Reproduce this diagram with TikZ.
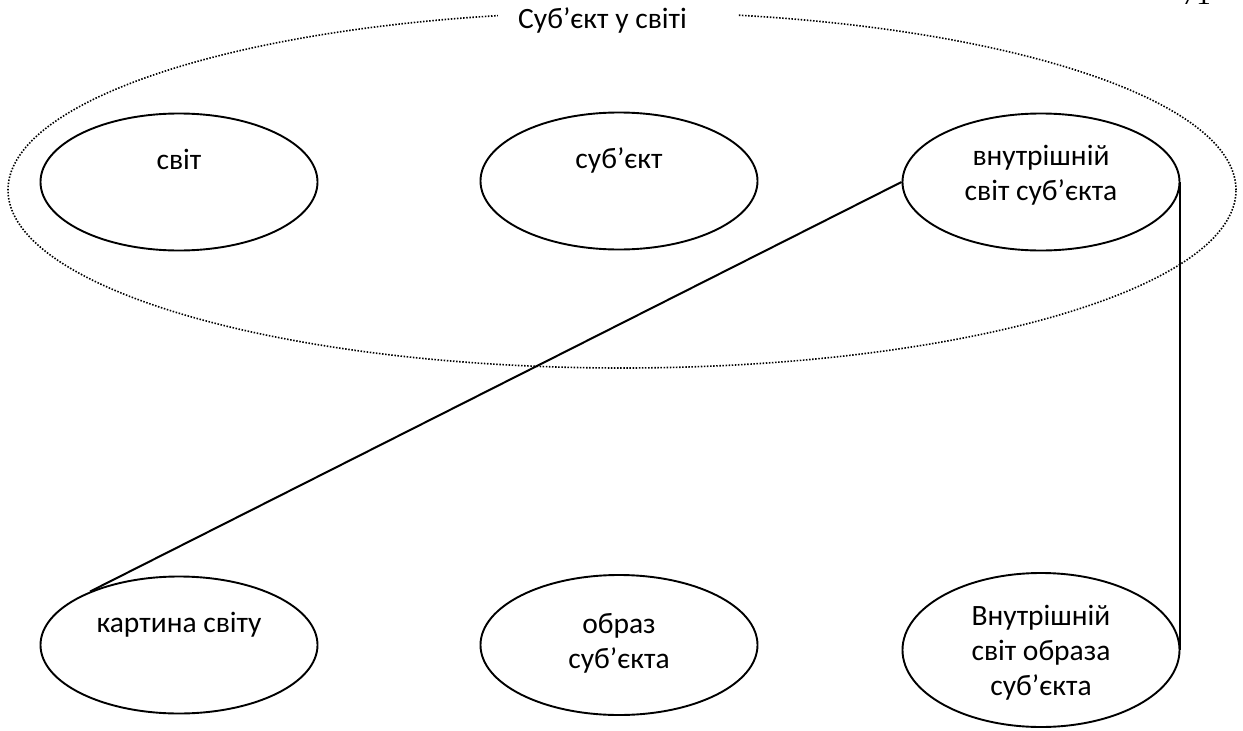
\documentclass[tikz,border=0pt]{standalone}
\usepackage{fontspec}
\setmainfont{Carlito}
\newfontfamily\pagefont{Liberation Serif}
\usetikzlibrary{shapes.geometric}

\tikzset{
  oval/.style={draw, ellipse, line width=1.9pt, inner sep=0pt,
               minimum width=277pt, minimum height=137pt},
  frameoval/.style={draw, ellipse, inner sep=0pt, line width=1.6pt,
               dash pattern=on 1.5pt off 1.6pt},
  label/.style={font=\fontsize{29.5}{35}\selectfont, inner sep=0pt,
                align=center, anchor=base},
  link/.style={line width=2pt}
}

\begin{document}
\begin{tikzpicture}[x=1pt, y=-1pt]
  \useasboundingbox (0,0) rectangle (1243,731);

  % outer dotted frame with its heading
  \node[frameoval, minimum width=1228pt, minimum height=356pt] (frame) at (622,190) {};
  \fill[white] (498,0) rectangle (738,40);
  \node[label, anchor=base west] (title) at (518,28) {Суб’єкт у світі};

  % page number, cut by the page edge
  \node[inner sep=0pt, anchor=base east, font=\pagefont\fontsize{29}{35}\selectfont]
    (pagenum) at (1211,4) {71};

  % upper row (multi-line labels sit on the baseline of their last line)
  \node[oval] (world) at (179,182) {};
  \node[label] (worldT) at (179,169) {світ};
  \node[oval] (subject) at (619,181) {};
  \node[label] (subjectT) at (619,168) {суб’єкт};
  \node[oval] (inner) at (1041,182) {};
  \node[label] (innerT) at (1041,200) {внутрішній\\світ суб’єкта};

  % lower row
  \node[oval] (picture) at (179,645) {};
  \node[label] (pictureT) at (179,632) {картина світу};
  \node[oval, minimum height=140pt] (image) at (619,645) {};
  \node[label] (imageT) at (619,668) {образ\\суб’єкта};
  \node[oval, minimum height=154pt] (innerimg) at (1041,650) {};
  \node[label] (innerimgT) at (1041,695) {Внутрішній\\світ образа\\суб’єкта};

  % connectors
  \draw[link] (inner.west) -- (picture.149);
  \draw[link] (inner.east) -- (inner.east |- innerimg.east);
\end{tikzpicture}
\end{document}
